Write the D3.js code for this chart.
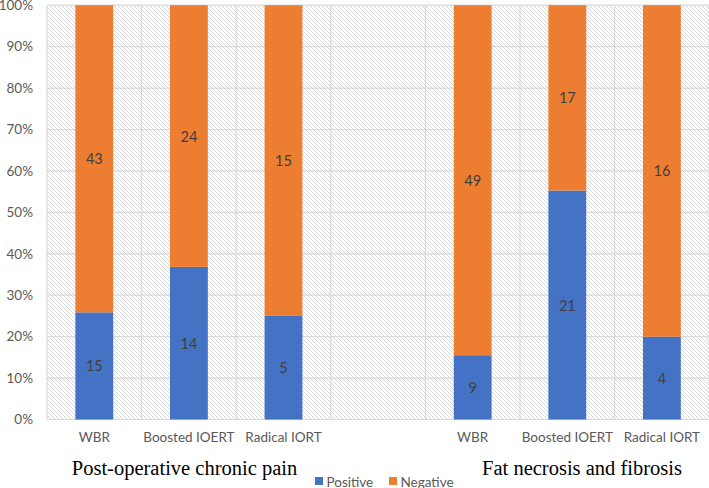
<!DOCTYPE html>
<html>
<head>
<meta charset="utf-8">
<script src="https://cdn.jsdelivr.net/npm/d3@7/dist/d3.min.js"></script>
<style>
  html, body { margin: 0; padding: 0; background: #fff; }
  svg { display: block; }
</style>
</head>
<body>
<svg id="chart" width="709" height="488"></svg>
<script>
// ---- data ----
const categories = ["WBR", "Boosted IOERT", "Radical IORT", "", "WBR", "Boosted IOERT", "Radical IORT"];
const positive = [15, 14, 5, null, 9, 21, 4];
const negative = [43, 24, 15, null, 49, 17, 16];
const seriesNames = ["Positive", "Negative"];
const groupTitles = ["Post-operative chronic pain", "Fat necrosis and fibrosis"];
const yTicks = [0, 10, 20, 30, 40, 50, 60, 70, 80, 90, 100];

// ---- layout ----
const W = 709, H = 488;
const plot = { left: 47, right: 709.2, top: 5.2, bottom: 419.5 };
const colors = { Positive: "#4472C4", Negative: "#ED7D31" };
const sansFont = "Lato, 'Open Sans', 'Liberation Sans', sans-serif";
const serifFont = "'Liberation Serif', 'DejaVu Serif', serif";

const svg = d3.select("#chart");

// hatch pattern for plot background
const defs = svg.append("defs");
const pat = defs.append("pattern")
  .attr("id", "hatch")
  .attr("patternUnits", "userSpaceOnUse")
  .attr("width", 4).attr("height", 4);
pat.append("rect").attr("width", 4).attr("height", 4).attr("fill", "#ffffff");
pat.append("path")
  .attr("d", "M-1,-1 L5,5 M-1,3 L1,5 M3,-1 L5,1")
  .attr("stroke", "#d4d4d4").attr("stroke-width", 0.9);

const idx = d3.range(categories.length);
const x = d3.scaleBand().domain(idx).range([plot.left, plot.right])
  .paddingInner(0.6).paddingOuter(0.3);
const step = x.step();
const y = d3.scaleLinear().domain([0, 100]).range([plot.bottom, plot.top]);

// background
svg.append("rect")
  .attr("x", plot.left).attr("y", plot.top)
  .attr("width", plot.right - plot.left).attr("height", plot.bottom - plot.top)
  .attr("fill", "url(#hatch)");

// horizontal gridlines
svg.append("g").selectAll("line").data(yTicks).join("line")
  .attr("x1", plot.left).attr("x2", plot.right)
  .attr("y1", d => y(d)).attr("y2", d => y(d))
  .attr("stroke", "#d9d9d9").attr("stroke-width", 1.2);

// vertical gridlines at category boundaries
const bounds = d3.range(categories.length + 1);
svg.append("g").selectAll("line").data(bounds).join("line")
  .attr("x1", d => plot.left + d * step).attr("x2", d => plot.left + d * step)
  .attr("y1", plot.top).attr("y2", plot.bottom)
  .attr("stroke", "#d9d9d9").attr("stroke-width", 1.2);

// y axis labels
const yAxis = d3.axisLeft(y).tickValues(yTicks).tickFormat(d => d + "%").tickSize(0).tickPadding(14);
const gy = svg.append("g").attr("transform", `translate(${plot.left},0)`).call(yAxis);
gy.select(".domain").remove();
gy.selectAll("text").attr("font-family", sansFont).attr("font-size", 13.5).attr("fill", "#595959");

// stacked data
const rows = idx.filter(i => positive[i] != null).map(i => {
  const tot = positive[i] + negative[i];
  const p = positive[i] / tot * 100;
  return { i, pos: positive[i], neg: negative[i], p };
});

const bars = svg.append("g");
rows.forEach(r => {
  bars.append("rect")
    .attr("x", x(r.i)).attr("width", x.bandwidth())
    .attr("y", y(r.p)).attr("height", y(0) - y(r.p))
    .attr("fill", colors.Positive);
  bars.append("rect")
    .attr("x", x(r.i)).attr("width", x.bandwidth())
    .attr("y", y(100)).attr("height", y(r.p) - y(100))
    .attr("fill", colors.Negative);
  const cx = x(r.i) + x.bandwidth() / 2;
  bars.append("text")
    .attr("x", cx).attr("y", y(r.p / 2))
    .attr("text-anchor", "middle").attr("dominant-baseline", "central")
    .attr("font-family", sansFont).attr("font-size", 14.5).attr("fill", "#404040")
    .text(r.pos);
  bars.append("text")
    .attr("x", cx).attr("y", y((r.p + 100) / 2))
    .attr("text-anchor", "middle").attr("dominant-baseline", "central")
    .attr("font-family", sansFont).attr("font-size", 14.5).attr("fill", "#404040")
    .text(r.neg);
});

// x axis category labels
const xAxis = d3.axisBottom(x).tickFormat(i => categories[i]).tickSize(0).tickPadding(13);
const gx = svg.append("g").attr("transform", `translate(0,${plot.bottom})`).call(xAxis);
gx.select(".domain").remove();
gx.selectAll("text").attr("font-family", sansFont).attr("font-size", 13.5).attr("fill", "#595959");

// group titles
const titleX = [184.5, 582];
svg.append("g").selectAll("text").data(groupTitles).join("text")
  .attr("x", (d, i) => titleX[i]).attr("y", 468)
  .attr("text-anchor", "middle").attr("dominant-baseline", "central")
  .attr("font-family", serifFont).attr("font-size", 20.5).attr("fill", "#000")
  .text(d => d);

// legend
const legendX = [315, 389];
const lg = svg.append("g").selectAll("g").data(seriesNames).join("g")
  .attr("transform", (d, i) => `translate(${legendX[i]},477)`);
lg.append("rect").attr("width", 8).attr("height", 8).attr("fill", d => colors[d]);
lg.append("text").attr("x", 11.5).attr("y", 4.5)
  .attr("dominant-baseline", "central")
  .attr("font-family", sansFont).attr("font-size", 13.5).attr("fill", "#595959")
  .text(d => d);
</script>
</body>
</html>
